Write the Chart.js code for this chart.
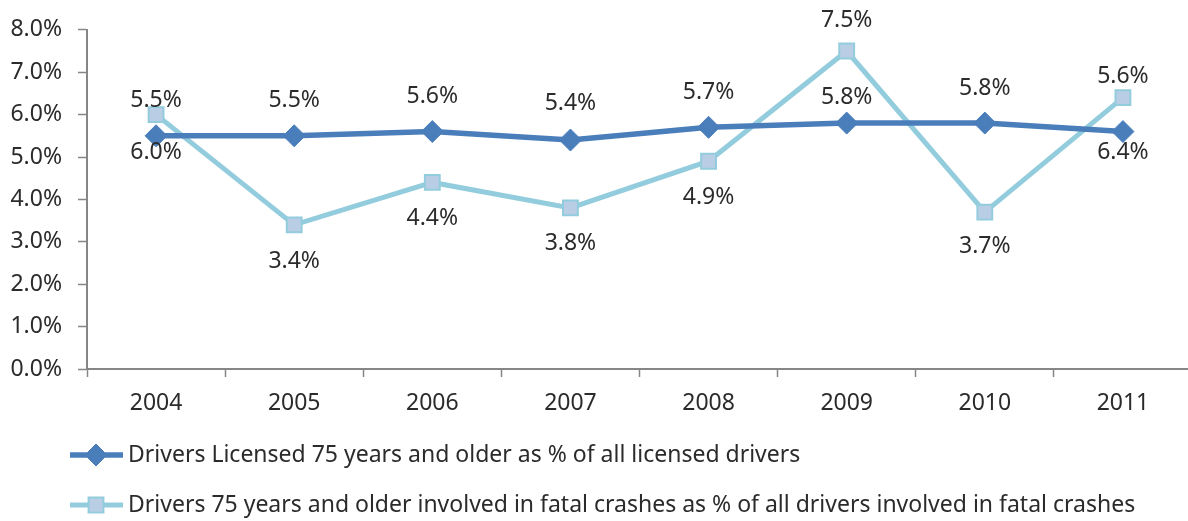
<!DOCTYPE html>
<html>
<head>
<meta charset="utf-8">
<script src="https://cdn.jsdelivr.net/npm/chart.js@4"></script>
<style>
  html, body { margin: 0; padding: 0; background: #fff; overflow: hidden; }
  #wrap { width: 1192px; height: 521px; }
</style>
</head>
<body>
<div id="wrap"><canvas id="chart" width="1192" height="521"></canvas></div>
<script>
// Data (percent)
const years = ['2004', '2005', '2006', '2007', '2008', '2009', '2010', '2011'];
const licensedShare = [5.5, 5.5, 5.6, 5.4, 5.7, 5.8, 5.8, 5.6];
const fatalShare = [6.0, 3.4, 4.4, 3.8, 4.9, 7.5, 3.7, 6.4];
const yTicks = [0, 1, 2, 3, 4, 5, 6, 7, 8];

const seriesNames = [
  'Drivers Licensed 75 years and older as % of all licensed drivers',
  'Drivers 75 years and older involved in fatal crashes as % of all drivers involved in fatal crashes'
];

// vertical nudge of each value label (px, negative = up)
const labelShift = [
  [-35, -35, -35, -37, -35, -26, -35, -55],
  [38, 37, 36, 36, 36, -31, 34, 55]
];

const FONT = "'Noto Sans', sans-serif";
const FONT_SIZE = 23;
const TEXT = '#2b2b2b';
const AXIS = '#868686';

// value labels drawn next to each point
const valueLabels = {
  id: 'valueLabels',
  afterDatasetsDraw(chart) {
    const ctx = chart.ctx;
    ctx.save();
    ctx.font = FONT_SIZE + 'px ' + FONT;
    ctx.fillStyle = TEXT;
    ctx.textAlign = 'center';
    ctx.textBaseline = 'middle';
    chart.data.datasets.forEach((ds, d) => {
      chart.getDatasetMeta(d).data.forEach((pt, i) => {
        ctx.fillText(ds.data[i].toFixed(1) + '%', pt.x, pt.y + labelShift[d][i]);
      });
    });
    ctx.restore();
  }
};

// legend in the Excel style: line with marker, then the text
const lineLegend = {
  id: 'lineLegend',
  afterDraw(chart) {
    const ctx = chart.ctx;
    const rows = [455, 505];
    ctx.save();
    chart.data.datasets.forEach((ds, d) => {
      const y = rows[d];
      ctx.strokeStyle = ds.borderColor;
      ctx.lineWidth = ds.borderWidth;
      ctx.beginPath();
      ctx.moveTo(70, y);
      ctx.lineTo(123, y);
      ctx.stroke();
      ctx.fillStyle = ds.pointBackgroundColor;
      ctx.strokeStyle = ds.pointBorderColor;
      ctx.lineWidth = ds.pointBorderWidth;
      Chart.helpers.drawPoint(ctx, {
        pointStyle: ds.pointStyle,
        radius: ds.pointRadius,
        borderWidth: ds.pointBorderWidth,
        rotation: 0
      }, 96, y);
      ctx.font = FONT_SIZE + 'px ' + FONT;
      ctx.fillStyle = TEXT;
      ctx.textAlign = 'left';
      ctx.textBaseline = 'middle';
      ctx.fillText(ds.label, 128, y);
    });
    ctx.restore();
  }
};

new Chart(document.getElementById('chart'), {
  type: 'line',
  data: {
    labels: years,
    datasets: [
      {
        label: seriesNames[0],
        data: licensedShare,
        borderColor: '#4A7EBB',
        borderWidth: 5.5,
        pointStyle: 'rectRot',
        pointRadius: 11,
        pointHoverRadius: 11,
        pointBackgroundColor: '#4A7EBB',
        pointBorderColor: '#4A7EBB',
        pointBorderWidth: 1,
        tension: 0
      },
      {
        label: seriesNames[1],
        data: fatalShare,
        borderColor: '#93CDDD',
        borderWidth: 5,
        pointStyle: 'rect',
        pointRadius: 10.5,
        pointHoverRadius: 10.5,
        pointBackgroundColor: '#B9CDE5',
        pointBorderColor: '#93CDDD',
        pointBorderWidth: 2,
        tension: 0
      }
    ]
  },
  options: {
    responsive: false,
    animation: false,
    layout: { autoPadding: false, padding: { top: 29, bottom: 100, left: 0, right: 0 } },
    scales: {
      x: {
        offset: true,
        grid: { offset: true, drawOnChartArea: false, tickLength: 8, tickColor: AXIS, tickWidth: 1.5 },
        border: { color: AXIS, width: 2 },
        ticks: { color: TEXT, padding: 13, font: { family: FONT, size: FONT_SIZE } },
        afterFit(scale) { scale.height = 52; }
      },
      y: {
        min: yTicks[0],
        max: yTicks[yTicks.length - 1],
        afterBuildTicks(scale) { scale.ticks = yTicks.map(v => ({ value: v })); },
        grid: { drawOnChartArea: false, tickLength: 9, tickColor: AXIS, tickWidth: 1.5 },
        border: { color: AXIS, width: 2 },
        ticks: {
          color: TEXT,
          padding: 16,
          font: { family: FONT, size: FONT_SIZE },
          callback: v => v.toFixed(1) + '%'
        },
        afterFit(scale) { scale.width = 87; }
      }
    },
    plugins: {
      legend: { display: false },
      tooltip: { enabled: false }
    }
  },
  plugins: [valueLabels, lineLegend]
});
</script>
</body>
</html>
